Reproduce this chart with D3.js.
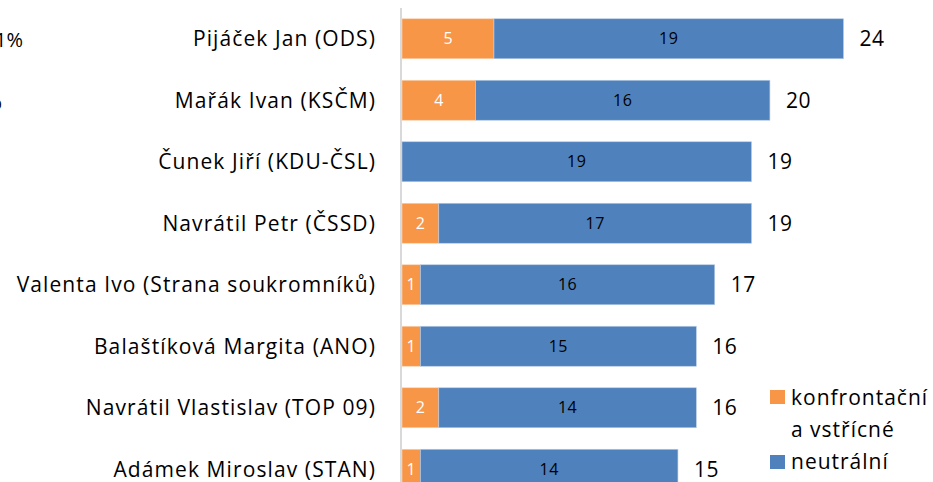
<!DOCTYPE html>
<html>
<head>
<meta charset="utf-8">
<script src="https://cdn.jsdelivr.net/npm/d3@7"></script>
<style>
  body { margin: 0; background: #fff; }
  svg { display: block; font-family: "Open Sans", "Noto Sans", sans-serif; }
</style>
</head>
<body>
<svg id="chart" width="933" height="482"></svg>
<script>
// candidates and counts of statements
const names = [
  "Pijáček Jan (ODS)",
  "Mařák Ivan (KSČM)",
  "Čunek Jiří (KDU-ČSL)",
  "Navrátil Petr (ČSSD)",
  "Valenta Ivo (Strana soukromníků)",
  "Balaštíková Margita (ANO)",
  "Navrátil Vlastislav (TOP 09)",
  "Adámek Miroslav (STAN)"
];
const konfrontacni = [5, 4, 0, 2, 1, 1, 2, 1];
const neutralni = [19, 16, 19, 17, 16, 15, 14, 14];
const colors = ["#F79646", "#4F81BD"];

const width = 933, height = 482;
const svg = d3.select("#chart");

const rows = names.map((n, i) => ({
  name: n,
  k: konfrontacni[i],
  n: neutralni[i],
  total: konfrontacni[i] + neutralni[i]
}));

const x = d3.scaleLinear().domain([0, 24]).range([402, 843.5]);
const y = d3.scaleBand().domain(names).range([8, 500])
  .paddingInner(0.35).paddingOuter(0.175);
const mid = d => y(d.name) + y.bandwidth() / 2;

// leftover labels from the neighbouring chart (cut off at the edge)
svg.append("text").attr("x", 23).attr("y", 47).attr("text-anchor", "end")
  .attr("font-size", 20).attr("fill", "#000").text("21%");
svg.append("text").attr("x", 2).attr("y", 109).attr("text-anchor", "end")
  .attr("font-size", 20).attr("fill", "#000").text("6%");

// vertical axis line
svg.append("line")
  .attr("x1", 401).attr("x2", 401)
  .attr("y1", 8).attr("y2", height)
  .attr("stroke", "#d9d9d9").attr("stroke-width", 2);

const row = svg.append("g").selectAll("g.row").data(rows)
  .enter().append("g").attr("class", "row");

// orange segment
row.filter(d => d.k > 0).append("rect")
  .attr("x", x(0))
  .attr("y", d => y(d.name))
  .attr("width", d => x(d.k) - x(0))
  .attr("height", y.bandwidth())
  .attr("fill", colors[0])
  .attr("stroke", "#fbd3b5").attr("stroke-width", 0.6);

// blue segment
row.append("rect")
  .attr("x", d => x(d.k))
  .attr("y", d => y(d.name))
  .attr("width", d => x(d.total) - x(d.k))
  .attr("height", y.bandwidth())
  .attr("fill", colors[1])
  .attr("stroke", "#b9cde5").attr("stroke-width", 0.6);

// inside labels
row.filter(d => d.k > 0).append("text")
  .attr("x", d => (x(0) + x(d.k)) / 2)
  .attr("y", mid)
  .attr("dy", "0.35em")
  .attr("text-anchor", "middle")
  .attr("font-size", 16)
  .attr("fill", "#fff")
  .text(d => d.k);

row.append("text")
  .attr("x", d => (x(d.k) + x(d.total)) / 2)
  .attr("y", mid)
  .attr("dy", "0.35em")
  .attr("text-anchor", "middle")
  .attr("font-size", 16)
  .attr("letter-spacing", 0.5)
  .attr("fill", "#000")
  .text(d => d.n);

// totals
row.append("text")
  .attr("x", d => x(d.total) + 16)
  .attr("y", mid)
  .attr("dy", "0.35em")
  .attr("font-size", 21)
  .attr("letter-spacing", 0.5)
  .attr("fill", "#000")
  .text(d => d.total);

// category labels
row.append("text")
  .attr("x", 376)
  .attr("y", mid)
  .attr("dy", "0.35em")
  .attr("text-anchor", "end")
  .attr("font-size", 21)
  .attr("letter-spacing", 1.1)
  .attr("fill", "#000")
  .text(d => d.name);

// legend
const legend = svg.append("g").attr("font-size", 21).attr("letter-spacing", 1);
legend.append("rect").attr("x", 770).attr("y", 390).attr("width", 15).attr("height", 14)
  .attr("fill", colors[0]);
legend.append("text").attr("x", 791).attr("y", 405).text("konfrontační");
legend.append("text").attr("x", 791).attr("y", 437).text("a vstřícné");
legend.append("rect").attr("x", 770).attr("y", 455).attr("width", 15).attr("height", 14)
  .attr("fill", colors[1]);
legend.append("text").attr("x", 791).attr("y", 469).text("neutrální");
</script>
</body>
</html>
